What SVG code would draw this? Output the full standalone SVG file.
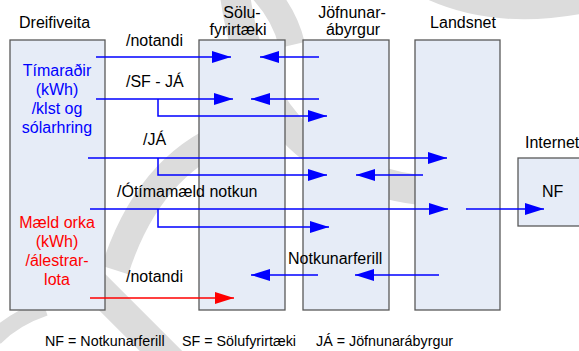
<svg xmlns="http://www.w3.org/2000/svg" width="579" height="351" viewBox="0 0 579 351">
<style>
text{font-family:"Liberation Sans",Arial,sans-serif;font-size:16px;fill:#000}
.box{fill:#E6ECF7;stroke:#595959;stroke-width:1.3}
.wm{fill:none;stroke:#dcdcdc}
.c{fill:none;stroke:#0000FF;stroke-width:1.5;marker-end:url(#ab)}
.r{fill:none;stroke:#FF0000;stroke-width:1.5;marker-end:url(#ar)}
.blue{fill:#0000FF}
.red{fill:#FF0000}
.foot{font-size:14.3px}
</style>
<defs>
<marker id="ab" markerUnits="userSpaceOnUse" markerWidth="19" markerHeight="12" refX="19" refY="6" orient="auto"><path d="M0,0 L19,6 L0,12 z" fill="#0000FF"/></marker>
<marker id="ar" markerUnits="userSpaceOnUse" markerWidth="19" markerHeight="12" refX="19" refY="6" orient="auto"><path d="M0,0 L19,6 L0,12 z" fill="#FF0000"/></marker>
</defs>
<rect width="579" height="351" fill="#fff"/>
<g id="watermark">
<path class="wm" stroke-width="30" d="M235,-5 Q260,180 440,192"/>
<path class="wm" stroke-width="26" d="M262,-10 Q285,15 292,45"/>
<path class="wm" stroke-width="28" d="M240,130 Q150,160 115,270"/>
<path class="wm" stroke-width="30" d="M40,230 L200,390"/>
<path class="wm" stroke-width="24" d="M425,-15 Q495,20 590,0"/>
<path class="wm" stroke-width="16" d="M-5,338 Q15,318 45,308"/>
</g>
<g id="dreifiveita">
<rect class="box" x="10" y="40" width="95" height="270"/>
<text x="19" y="28">Dreifiveita</text>
<text class="blue" x="57" y="76" text-anchor="middle">Tímaraðir</text>
<text class="blue" x="57" y="95" text-anchor="middle">(kWh)</text>
<text class="blue" x="57" y="114" text-anchor="middle">/klst og</text>
<text class="blue" x="57" y="133" text-anchor="middle">sólarhring</text>
<text class="red" x="57" y="228" text-anchor="middle">Mæld orka</text>
<text class="red" x="57" y="247" text-anchor="middle">(kWh)</text>
<text class="red" x="57" y="266" text-anchor="middle">/álestrar-</text>
<text class="red" x="57" y="285" text-anchor="middle">lota</text>
</g>
<g id="solufyrirtaeki">
<rect class="box" x="199" y="40" width="86" height="270"/>
<text x="242" y="18" text-anchor="middle">Sölu-</text>
<text x="238" y="35" text-anchor="middle">fyrirtæki</text>
</g>
<g id="jofnunarabyrgur">
<rect class="box" x="303" y="40" width="86" height="270"/>
<text x="352" y="18" text-anchor="middle">Jöfnunar-</text>
<text x="353" y="35" text-anchor="middle">ábyrgur</text>
</g>
<g id="landsnet">
<rect class="box" x="415" y="40" width="85" height="270"/>
<text x="463" y="28" text-anchor="middle">Landsnet</text>
</g>
<g id="internet">
<rect class="box" x="518" y="158" width="70" height="68"/>
<text x="525" y="148">Internet</text>
<text x="542" y="197">NF</text>
</g>
<g id="connectors">
<path class="c" d="M96,57 H231"/>
<path class="c" d="M319,57 H260"/>
<path class="c" d="M96,99 H233"/>
<path class="c" d="M158,99 V116 H327"/>
<path class="c" d="M319,99 H251"/>
<path class="c" d="M88,158 H447"/>
<path class="c" d="M158,158 V175 H327"/>
<path class="c" d="M423,175 H356"/>
<path class="c" d="M90,209 H448"/>
<path class="c" d="M158,209 V227 H329"/>
<path class="c" d="M466,209 H544"/>
<path class="c" d="M439,275 H355"/>
<path class="c" d="M318,275 H251"/>
<path class="r" d="M90,298 H234"/>
</g>
<g id="labels">
<text x="126" y="46">/notandi</text>
<text x="126" y="87">/SF - JÁ</text>
<text x="143" y="145">/JÁ</text>
<text x="117" y="197">/Ótímamæld notkun</text>
<text x="288" y="264">Notkunarferill</text>
<text x="126" y="282">/notandi</text>
</g>
<g id="legend">
<text class="foot" x="45" y="346">NF = Notkunarferill</text>
<text class="foot" x="182" y="346">SF = Sölufyrirtæki</text>
<text class="foot" x="316" y="346">JÁ = Jöfnunarábyrgur</text>
</g>
</svg>
